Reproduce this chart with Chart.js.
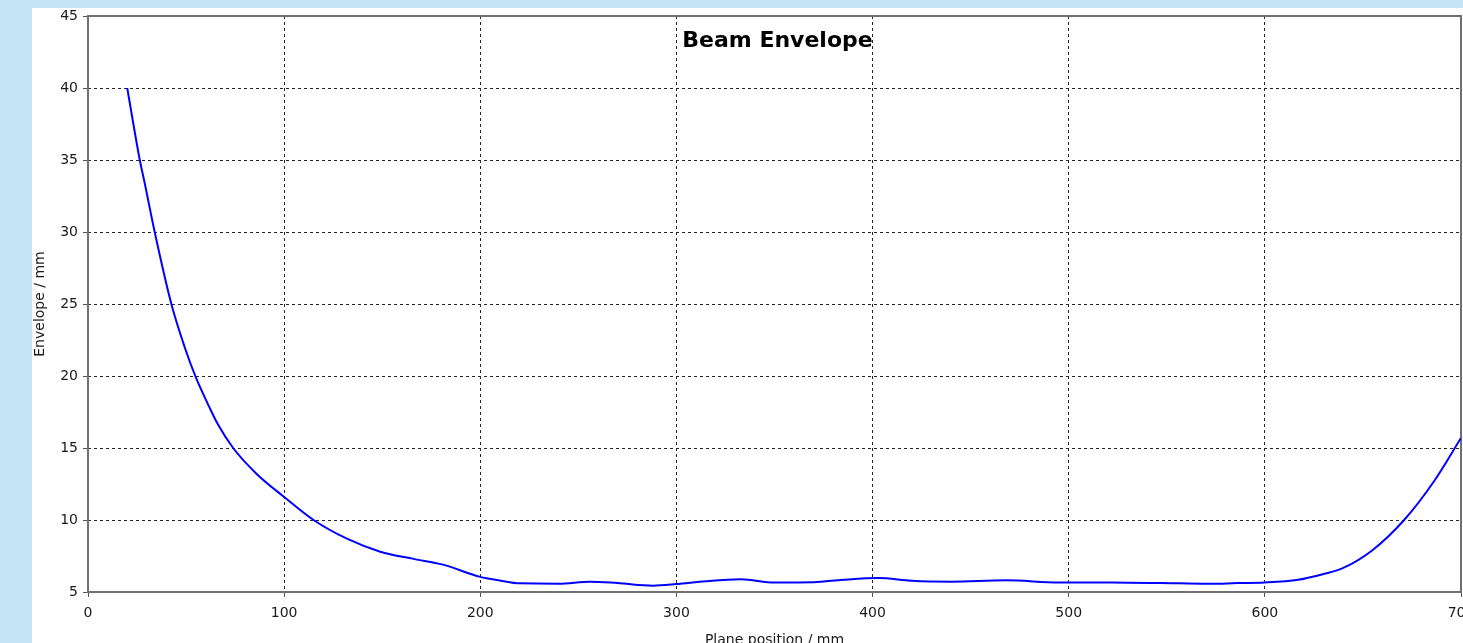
<!DOCTYPE html>
<html>
<head>
<meta charset="utf-8">
<script src="https://cdn.jsdelivr.net/npm/chart.js@4/dist/chart.umd.min.js"></script>
<style>
  html, body { margin: 0; padding: 0; overflow: hidden; background: #c3e4f4; }
  #panel { position: absolute; left: 32px; top: 8px; width: 1431px; height: 635px; background: #ffffff; }
  #chart { display: block; }
</style>
</head>
<body>
<div id="panel"><canvas id="chart" width="1431" height="635"></canvas></div>
<script>
// Beam envelope along the optical axis
const planePositions = [20, 26.4, 28.9, 34, 42.5, 49.3, 55, 62, 66, 74, 86, 100, 115, 132, 149, 166, 181,
  200, 210, 220, 240, 256, 270, 288, 300, 315, 333, 350, 370, 385, 403, 420, 440, 468,
  495, 530, 556, 572, 586, 600, 617, 630, 640, 655, 671, 686, 700];
const envelopeValues = [40, 35, 33.4, 30, 25, 22.0, 19.9, 17.8, 16.7, 15, 13.2, 11.6, 10, 8.7, 7.8, 7.3, 6.9,
  6.05, 5.8, 5.6, 5.58, 5.72, 5.62, 5.44, 5.55, 5.75, 5.88, 5.66, 5.68, 5.85, 5.97, 5.78, 5.72, 5.81,
  5.66, 5.65, 5.6, 5.57, 5.62, 5.66, 5.85, 6.25, 6.67, 7.92, 10.0, 12.64, 15.7];
const xTicks = [0, 100, 200, 300, 400, 500, 600, 700];
const yTicks = [5, 10, 15, 20, 25, 30, 35, 40, 45];

const chartTitle = 'Beam Envelope';
const xTitle = 'Plane position / mm';
const yTitle = 'Envelope / mm';

const points = planePositions.map((x, i) => ({ x: x, y: envelopeValues[i] }));

// Plot frame and inner title
const framePlugin = {
  id: 'frame',
  beforeDatasetsDraw(chart) {
    const { ctx, chartArea: a } = chart;
    ctx.save();
    ctx.strokeStyle = '#707070';
    ctx.lineWidth = 2;
    ctx.strokeRect(a.left, a.top, a.right - a.left, a.bottom - a.top);
    ctx.restore();
  },
  afterDraw(chart) {
    const { ctx, chartArea: a } = chart;
    ctx.save();
    ctx.font = 'bold 22px "DejaVu Sans"';
    ctx.fillStyle = '#000000';
    ctx.textAlign = 'center';
    ctx.textBaseline = 'alphabetic';
    ctx.fillText(chartTitle, (a.left + a.right) / 2 + 3, a.top + 31);
    ctx.restore();
  }
};

const tickFont = { family: 'DejaVu Sans', size: 14 };

new Chart(document.getElementById('chart'), {
  type: 'line',
  data: {
    datasets: [{
      data: points,
      borderColor: '#0000ff',
      borderWidth: 2,
      pointRadius: 0,
      fill: false,
      cubicInterpolationMode: 'monotone'
    }]
  },
  options: {
    responsive: false,
    devicePixelRatio: 1,
    animation: false,
    layout: { padding: { top: 8, right: 2, left: 0, bottom: 0 } },
    plugins: { legend: { display: false }, tooltip: { enabled: false }, title: { display: false } },
    scales: {
      x: {
        type: 'linear',
        min: 0,
        max: 700,
        afterBuildTicks(scale) { scale.ticks = xTicks.map(v => ({ value: v })); },
        afterFit(scale) { scale.height = 51; scale.paddingLeft = 0; scale.paddingRight = 0; },
        ticks: { font: tickFont, color: '#1a1a1a', padding: 8, maxRotation: 0, autoSkip: false },
        grid: { color: '#262626', lineWidth: 1, tickLength: 5, tickColor: '#555555', tickWidth: 1 },
        border: { display: false, dash: [3, 3] },
        title: { display: true, text: xTitle, font: { family: 'DejaVu Sans', size: 14 }, color: '#1a1a1a', padding: { top: 0, bottom: -6 } }
      },
      y: {
        type: 'linear',
        min: 5,
        max: 45,
        afterBuildTicks(scale) { scale.ticks = yTicks.map(v => ({ value: v })); },
        afterFit(scale) { scale.width = 56; scale.paddingTop = 0; scale.paddingBottom = 0; },
        ticks: { font: tickFont, color: '#1a1a1a', padding: 5, autoSkip: false },
        grid: { color: '#262626', lineWidth: 1, tickLength: 5, tickColor: '#555555', tickWidth: 1 },
        border: { display: false, dash: [3, 3] },
        title: { display: true, text: yTitle, font: { family: 'DejaVu Sans', size: 14 }, color: '#1a1a1a', padding: { top: 0, bottom: 0 } }
      }
    }
  },
  plugins: [framePlugin]
});
</script>
</body>
</html>
